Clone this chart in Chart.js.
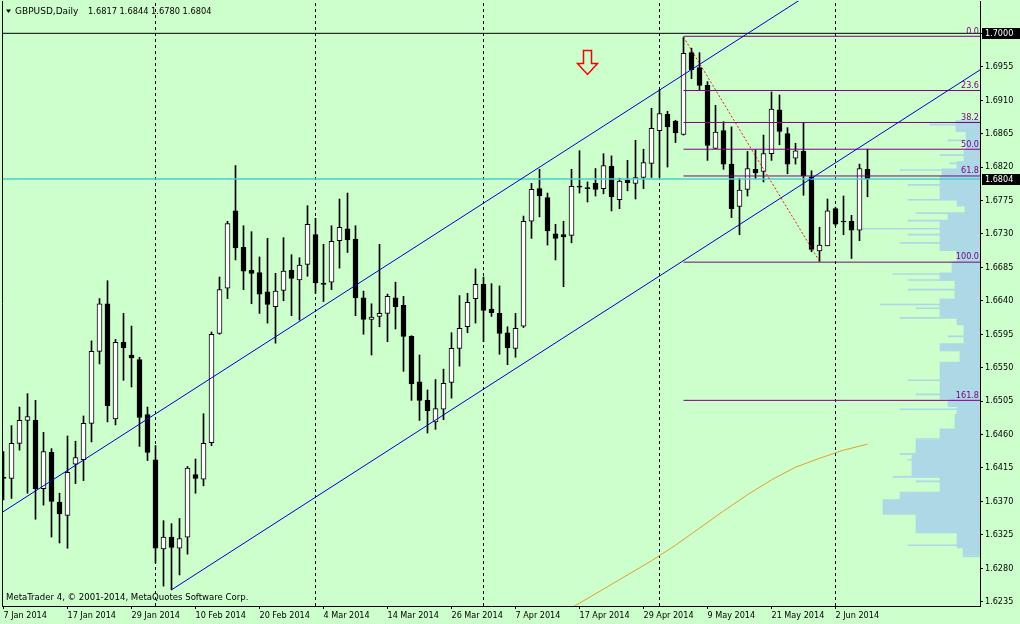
<!DOCTYPE html>
<html><head><meta charset="utf-8">
<script src="https://cdn.jsdelivr.net/npm/chart.js@4/dist/chart.umd.min.js"></script>
<style>html,body{margin:0;padding:0;background:#CCFFCC;}canvas{display:block;}</style>
</head><body>
<canvas id="c" width="1020" height="624"></canvas>
<script>
const symbol = 'GBPUSD,Daily';
const copyright = 'MetaTrader 4, \u00A9 2001-2014, MetaQuotes Software Corp.';
const dates = ["7 Jan 2014","8 Jan 2014","9 Jan 2014","10 Jan 2014","13 Jan 2014","14 Jan 2014","15 Jan 2014","16 Jan 2014","17 Jan 2014","20 Jan 2014","21 Jan 2014","22 Jan 2014","23 Jan 2014","24 Jan 2014","27 Jan 2014","28 Jan 2014","29 Jan 2014","30 Jan 2014","31 Jan 2014",
"3 Feb 2014","4 Feb 2014","5 Feb 2014","6 Feb 2014","7 Feb 2014","10 Feb 2014","11 Feb 2014","12 Feb 2014","13 Feb 2014","14 Feb 2014","17 Feb 2014","18 Feb 2014","19 Feb 2014","20 Feb 2014","21 Feb 2014","24 Feb 2014","25 Feb 2014","26 Feb 2014","27 Feb 2014","28 Feb 2014",
"3 Mar 2014","4 Mar 2014","5 Mar 2014","6 Mar 2014","7 Mar 2014","10 Mar 2014","11 Mar 2014","12 Mar 2014","13 Mar 2014","14 Mar 2014","17 Mar 2014","18 Mar 2014","19 Mar 2014","20 Mar 2014","21 Mar 2014","24 Mar 2014","25 Mar 2014","26 Mar 2014","27 Mar 2014","28 Mar 2014","31 Mar 2014",
"1 Apr 2014","2 Apr 2014","3 Apr 2014","4 Apr 2014","7 Apr 2014","8 Apr 2014","9 Apr 2014","10 Apr 2014","11 Apr 2014","14 Apr 2014","15 Apr 2014","16 Apr 2014","17 Apr 2014","18 Apr 2014","21 Apr 2014","22 Apr 2014","23 Apr 2014","24 Apr 2014","25 Apr 2014","28 Apr 2014","29 Apr 2014","30 Apr 2014",
"1 May 2014","2 May 2014","5 May 2014","6 May 2014","7 May 2014","8 May 2014","9 May 2014","12 May 2014","13 May 2014","14 May 2014","15 May 2014","16 May 2014","19 May 2014","20 May 2014","21 May 2014","22 May 2014","23 May 2014","26 May 2014","27 May 2014","28 May 2014","29 May 2014","30 May 2014",
"2 Jun 2014","3 Jun 2014","4 Jun 2014","5 Jun 2014","6 Jun 2014"];

const opens = [1.6402,1.6401,1.6448,1.6479,1.6479,1.6387,1.6436,1.6369,1.6351,1.6420,1.6426,1.6475,1.6572,1.6636,1.6481,1.6584,1.6567,1.6561,1.6487,
1.6426,1.6306,1.6322,1.6307,1.6322,1.6406,1.6400,1.6449,1.6596,1.6657,1.6761,1.6712,1.6681,1.6678,1.6652,1.6632,1.6654,1.6681,1.6668,1.6689,
1.6729,1.6664,1.6665,1.6721,1.6737,1.6723,1.6644,1.6615,1.6619,1.6623,1.6644,1.6634,1.6592,1.6531,1.6506,1.6477,1.6494,1.6530,1.6576,1.6605,1.6643,
1.6662,1.6629,1.6623,1.6597,1.6576,1.6606,1.6747,1.6791,1.6779,1.6730,1.6729,1.6728,1.6793,1.6791,1.6798,1.6791,1.6821,1.6776,1.6802,1.6798,1.6806,1.6825,
1.6869,1.6891,1.6882,1.6864,1.6974,1.6954,1.6930,1.6845,1.6869,1.6824,1.6767,1.6790,1.6817,1.6814,1.6838,1.6897,1.6865,1.6832,1.6841,1.6807,1.6707,1.6714,
1.6764,1.6747,1.6747,1.6735,1.6817];
const highs = [1.6437,1.6472,1.6497,1.6515,1.6506,1.6463,1.6441,1.6381,1.6458,1.6451,1.6485,1.6586,1.6643,1.6667,1.6588,1.6623,1.6606,1.6564,1.6497,
1.6445,1.6344,1.6340,1.6347,1.6417,1.6427,1.6488,1.6598,1.6672,1.6747,1.6822,1.6741,1.6733,1.6699,1.6724,1.6677,1.6725,1.6702,1.6698,1.6768,
1.6751,1.6716,1.6741,1.6777,1.6785,1.6741,1.6653,1.6636,1.6716,1.6649,1.6665,1.6646,1.6593,1.6567,1.6520,1.6534,1.6548,1.6597,1.6647,1.6650,1.6683,
1.6672,1.6663,1.6660,1.6605,1.6623,1.6754,1.6798,1.6817,1.6785,1.6743,1.6747,1.6817,1.6842,1.6800,1.6818,1.6838,1.6835,1.6805,1.6829,1.6856,1.6844,1.6899,
1.6924,1.6895,1.6883,1.6995,1.6980,1.6974,1.6935,1.6903,1.6881,1.6874,1.6805,1.6841,1.6843,1.6863,1.6921,1.6917,1.6873,1.6852,1.6880,1.6815,1.6739,1.6777,
1.6766,1.6781,1.6755,1.6824,1.6844];
const lows = [1.6372,1.6374,1.6439,1.6381,1.6346,1.6365,1.6322,1.6314,1.6307,1.6394,1.6398,1.6450,1.6555,1.6477,1.6473,1.6533,1.6524,1.6444,1.6425,
1.6287,1.6256,1.6251,1.6271,1.6299,1.6381,1.6391,1.6445,1.6595,1.6643,1.6695,1.6655,1.6636,1.6623,1.6610,1.6583,1.6640,1.6620,1.6614,1.6673,
1.6650,1.6639,1.6655,1.6684,1.6705,1.6620,1.6595,1.6567,1.6605,1.6585,1.6602,1.6545,1.6506,1.6479,1.6462,1.6467,1.6480,1.6509,1.6552,1.6597,1.6610,
1.6585,1.6619,1.6568,1.6554,1.6564,1.6604,1.6724,1.6753,1.6715,1.6695,1.6659,1.6718,1.6785,1.6773,1.6781,1.6784,1.6761,1.6764,1.6788,1.6777,1.6791,1.6806,
1.6806,1.6820,1.6853,1.6863,1.6939,1.6924,1.6829,1.6845,1.6817,1.6752,1.6729,1.6781,1.6804,1.6800,1.6829,1.6850,1.6811,1.6824,1.6782,1.6706,1.6693,1.6714,
1.6741,1.6729,1.6697,1.6721,1.6780];
const closes = [1.6401,1.6448,1.6479,1.6484,1.6387,1.6437,1.6370,1.6353,1.6409,1.6429,1.6475,1.6572,1.6636,1.6499,1.6584,1.6577,1.6563,1.6483,1.6436,
1.6307,1.6322,1.6308,1.6320,1.6415,1.6401,1.6448,1.6595,1.6655,1.6744,1.6711,1.6680,1.6677,1.6649,1.6635,1.6653,1.6680,1.6670,1.6688,1.6743,
1.6664,1.6662,1.6720,1.6739,1.6722,1.6644,1.6615,1.6618,1.6623,1.6646,1.6632,1.6592,1.6528,1.6506,1.6492,1.6495,1.6529,1.6576,1.6603,1.6638,1.6662,
1.6627,1.6624,1.6596,1.6577,1.6603,1.6747,1.6790,1.6781,1.6734,1.6724,1.6726,1.6794,1.6793,1.6791,1.6790,1.6822,1.6780,1.6801,1.6799,1.6806,1.6826,1.6872,
1.6892,1.6874,1.6866,1.6973,1.6951,1.6930,1.6849,1.6867,1.6824,1.6764,1.6789,1.6818,1.6812,1.6838,1.6898,1.6868,1.6824,1.6842,1.6808,1.6709,1.6715,1.6761,
1.6743,1.6746,1.6735,1.6818,1.6804];

// axes
const yTicks = [1.7000,1.6955,1.6910,1.6865,1.6820,1.6775,1.6730,1.6685,1.6640,1.6595,1.6550,1.6505,1.6460,1.6415,1.6370,1.6325,1.6280,1.6235];
const xTickIdx = [0,8,16,24,32,40,48,56,64,72,80,88,96,104];
const sepIdx = [19,39,60,82,104];     // first bar of each month
const Y_MIN = 1.62292, Y_MAX = 1.70435;
const X_MIN = -0.1875, X_MAX = 122.0625;

// objects
const hLinePrice = [1.7000];
const fibNames = ['0.0','23.6','38.2','50.0','61.8','100.0','161.8'];
const fibPrices = [1.6996,1.6923,1.6880,1.6844,1.6808,1.6692,1.6506];
const fibStartBar = 85;
const fibBaseBars = [85,102];
const fibBasePrices = [1.6995,1.6693];
const chanLowerBars = [21,122.1];
const chanLowerPrices = [1.6251,1.6951];
const chanUpperBars = [-0.2,101];
const chanUpperPrices = [1.6355,1.7055];
const maBars = [70,72,75,78,81,84,87,90,93,96,99,102,105,108];
const maVals = [1.6221,1.6233,1.6252,1.6271,1.6290,1.6311,1.6334,1.6357,1.6379,1.6399,1.6416,1.6428,1.6439,1.6447];
const arrowBar = 72.9, arrowPrice = 1.6960;

// price profile (right side histogram)
const profP = [1.6880,1.6875,1.6870,1.6865,1.6860,1.6855,1.6850,1.6845,1.6840,1.6835,1.6830,1.6825,1.6820,1.6815,1.6810,1.6805,1.6800,1.6795,1.6790,1.6785,1.6780,1.6775,1.6770,1.6765,1.6760,1.6755,1.6750,1.6745,1.6740,1.6735,1.6730,1.6725,1.6720,1.6715,1.6710,1.6705,1.6700,1.6695,1.6690,1.6685,1.6680,1.6675,1.6670,1.6665,1.6660,1.6655,1.6650,1.6645,1.6640,1.6635,1.6630,1.6625,1.6620,1.6615,1.6610,1.6605,1.6600,1.6595,1.6590,1.6585,1.6580,1.6575,1.6570,1.6565,1.6560,1.6555,1.6550,1.6545,1.6540,1.6535,1.6530,1.6525,1.6520,1.6515,1.6510,1.6505,1.6500,1.6495,1.6490,1.6485,1.6480,1.6475,1.6470,1.6465,1.6460,1.6455,1.6450,1.6445,1.6440,1.6435,1.6430,1.6425,1.6420,1.6415,1.6410,1.6405,1.6400,1.6395,1.6390,1.6385,1.6380,1.6375,1.6370,1.6365,1.6360,1.6355,1.6350,1.6345,1.6340,1.6335,1.6330,1.6325,1.6320,1.6315,1.6310,1.6305,1.6300];
const profLen = [24,24,24,14,14,14,14,14,16,16,16,23,23,38,38,40,40,40,40,40,40,23,23,15,15,32,32,40,40,40,40,40,40,40,40,23,23,23,28,28,28,40,40,25,25,25,25,25,40,40,40,40,40,23,23,16,16,16,16,16,40,40,20,20,20,40,40,40,40,40,40,40,40,40,40,32,32,23,23,25,25,25,25,40,40,40,64,64,64,64,68,68,68,68,68,68,40,40,40,40,80,80,97,97,97,97,64,64,64,64,64,23,23,23,23,17,17];
const thinP = [1.6877,1.6856,1.6836,1.6825,1.6816,1.6796,1.6776,1.6758,1.6748,1.6737,1.6729,1.6718,1.6676,1.6668,1.6655,1.6635,1.6630,1.6617,1.6592,1.6533,1.6514,1.6494,1.6454,1.6434,1.6426,1.6403,1.6397,1.6311,1.6296];
const thinLen = [50,32,40,30,80,72,72,64,72,120,72,80,87,72,72,100,64,80,32,72,64,80,64,80,72,87,64,72,17];

const FONT = "'DejaVu Sans Condensed','DejaVu Sans',sans-serif";
const TFONT = "'DejaVu Sans',sans-serif";
const BG = '#CCFFCC';

const N = opens.length;
const wickData = highs.map((h,i)=>({x:i, y:[lows[i], h]}));
const bodyData = opens.map((o,i)=>({x:i, y:[o, closes[i]]}));
const bodyFill = opens.map((o,i)=> closes[i] > o ? '#FFFFFF' : '#000000');

function seg(x1,y1,x2,y2){ return [{x:x1,y:y1},{x:x2,y:y2}]; }
const lineDs = (data, color, width, dash, order) => ({type:'line', data, borderColor:color, borderWidth:width, borderDash:dash||[], pointRadius:0, tension:0, fill:false, order, xAxisID:'x', yAxisID:'y'});

const datasets = [];
datasets.push({type:'bar', indexAxis:'y', xAxisID:'xp', yAxisID:'y', data: profP.map((p,i)=>({x:profLen[i], y:p})), backgroundColor:'#ADD8E6', borderWidth:0, barThickness:3.8, grouped:false, order:20});
datasets.push({type:'bar', indexAxis:'y', xAxisID:'xp', yAxisID:'y', data: thinP.map((p,i)=>({x:thinLen[i], y:p})), backgroundColor:'#ADD8E6', borderWidth:0, barThickness:1, grouped:false, order:19});
sepIdx.forEach(b => datasets.push(lineDs(seg(b,Y_MIN,b,Y_MAX), '#000000', 1, [3,3], 15)));
datasets.push({type:'bar', xAxisID:'x', yAxisID:'y', data: wickData, backgroundColor:'#000000', borderWidth:0, barThickness:1, grouped:false, order:10});
datasets.push({type:'bar', xAxisID:'x', yAxisID:'y', data: bodyData, backgroundColor:bodyFill, borderColor:'#000000', borderWidth:1, borderSkipped:false, barThickness:5, minBarLength:1, grouped:false, order:9});
datasets.push(lineDs(maBars.map((b,i)=>({x:b,y:maVals[i]})), '#E0A030', 1, [], 6));
hLinePrice.forEach(p => datasets.push(lineDs(seg(X_MIN,p,X_MAX,p), '#000000', 1, [], 5)));
datasets.push(lineDs(seg(X_MIN,closes[N-1],X_MAX,closes[N-1]), '#48D1CC', 1.5, [], 5));
fibPrices.forEach(p => datasets.push(lineDs(seg(fibStartBar,p,X_MAX,p), '#800080', 1, [], 4)));
datasets.push(lineDs(seg(fibBaseBars[0],fibBasePrices[0],fibBaseBars[1],fibBasePrices[1]), '#E02010', 1, [2,2], 3));
datasets.push(lineDs(seg(chanLowerBars[0],chanLowerPrices[0],chanLowerBars[1],chanLowerPrices[1]), '#0000CD', 1, [], 2));
datasets.push(lineDs(seg(chanUpperBars[0],chanUpperPrices[0],chanUpperBars[1],chanUpperPrices[1]), '#0000CD', 1, [], 2));

const overlay = {
  id:'overlay',
  beforeDraw(chart){
    const ctx = chart.ctx; ctx.save(); ctx.fillStyle = BG; ctx.fillRect(0,0,chart.width,chart.height); ctx.restore();
  },
  afterDatasetsDraw(chart){
    const ctx = chart.ctx, xs = chart.scales.x, ys = chart.scales.y, a = chart.chartArea;
    ctx.save();
    // fib labels
    ctx.font = '9px ' + FONT; ctx.fillStyle = '#800080'; ctx.textAlign = 'right'; ctx.textBaseline = 'bottom';
    fibPrices.forEach((p,i)=>{ ctx.fillText(fibNames[i], a.right - 1, ys.getPixelForValue(p) - 0.5); });
    // arrow
    const cx = Math.round(xs.getPixelForValue(arrowBar)) + 0.5, cy = Math.round(ys.getPixelForValue(arrowPrice)) + 0.5;
    ctx.beginPath();
    ctx.moveTo(cx-4, cy-13); ctx.lineTo(cx+4, cy-13); ctx.lineTo(cx+4, cy); ctx.lineTo(cx+10, cy);
    ctx.lineTo(cx, cy+11); ctx.lineTo(cx-10, cy); ctx.lineTo(cx-4, cy); ctx.closePath();
    ctx.strokeStyle = '#FF0000'; ctx.lineWidth = 1.5; ctx.stroke();
    // title
    ctx.fillStyle = '#000'; ctx.textAlign = 'left'; ctx.textBaseline = 'middle';
    ctx.beginPath(); ctx.moveTo(6,9.5); ctx.lineTo(11,9.5); ctx.lineTo(8.5,13); ctx.closePath(); ctx.fill();
    ctx.font = '9px ' + TFONT;
    ctx.fillText(symbol, 15, 11.5);
    const last = N-1;
    ctx.font = '9.2px ' + FONT;
    ctx.fillText([opens[last],highs[last],lows[last],closes[last]].map(v=>v.toFixed(4)).join(' '), 88, 11.5);
    // copyright
    ctx.font = '9.5px ' + FONT;
    ctx.fillText(copyright, 6, 598);
    // left border
    ctx.strokeStyle = '#000'; ctx.lineWidth = 1;
    ctx.beginPath(); ctx.moveTo(2.5, a.top); ctx.lineTo(2.5, a.bottom); ctx.stroke();
    ctx.restore();
  },
  afterDraw(chart){
    const ctx = chart.ctx, ys = chart.scales.y, a = chart.chartArea;
    ctx.save();
    ctx.font = '9px ' + FONT; ctx.textBaseline = 'middle'; ctx.textAlign = 'left';
    [hLinePrice[0], closes[N-1]].forEach(p=>{
      const y = Math.round(ys.getPixelForValue(p));
      ctx.fillStyle = '#000'; ctx.fillRect(a.right + 2, y - 5, chart.width - a.right - 2, 11);
      ctx.fillStyle = '#FFF'; ctx.fillText(p.toFixed(4), a.right + 5, y + 0.5);
    });
    ctx.restore();
  }
};

const noPad = s => { s.paddingLeft = 0; s.paddingRight = 0; s.paddingTop = 0; s.paddingBottom = 0; };

new Chart(document.getElementById('c'), {
  type:'bar',
  data:{ datasets },
  options:{
    responsive:false, animation:false, devicePixelRatio:1, events:[],
    layout:{ padding:{ left:2, top:1, right:0, bottom:0 } },
    plugins:{ legend:{display:false}, tooltip:{enabled:false}, title:{display:false} },
    scales:{
      x:{ type:'linear', position:'bottom', min:X_MIN, max:X_MAX, offset:false,
          afterBuildTicks: s => { s.ticks = xTickIdx.map(v=>({value:v})); },
          afterFit: s => { s.height = 18; noPad(s); },
          ticks:{ autoSkip:false, maxRotation:0, minRotation:0, align:'start', padding:1, color:'#000', font:{family:FONT, size:9}, callback: v => dates[v] },
          grid:{ display:true, offset:false, drawOnChartArea:false, drawTicks:true, tickLength:3, color:'#000', lineWidth:1 },
          border:{ display:true, color:'#000', width:1 } },
      xp:{ type:'linear', axis:'x', display:false, min:0, max:978, reverse:true, offset:false, afterFit: noPad },
      y:{ type:'linear', position:'right', min:Y_MIN, max:Y_MAX, offset:false, grace:0,
          afterBuildTicks: s => { s.ticks = yTicks.map(v=>({value:v})); },
          afterFit: s => { s.width = 40; noPad(s); },
          ticks:{ padding:2, color:'#000', font:{family:FONT, size:9}, callback: v => Number(v).toFixed(4) },
          grid:{ display:true, offset:false, drawOnChartArea:false, drawTicks:true, tickLength:3, color:'#000' },
          border:{ display:true, color:'#000', width:1 } }
    }
  },
  plugins:[overlay]
});
</script>
</body></html>
